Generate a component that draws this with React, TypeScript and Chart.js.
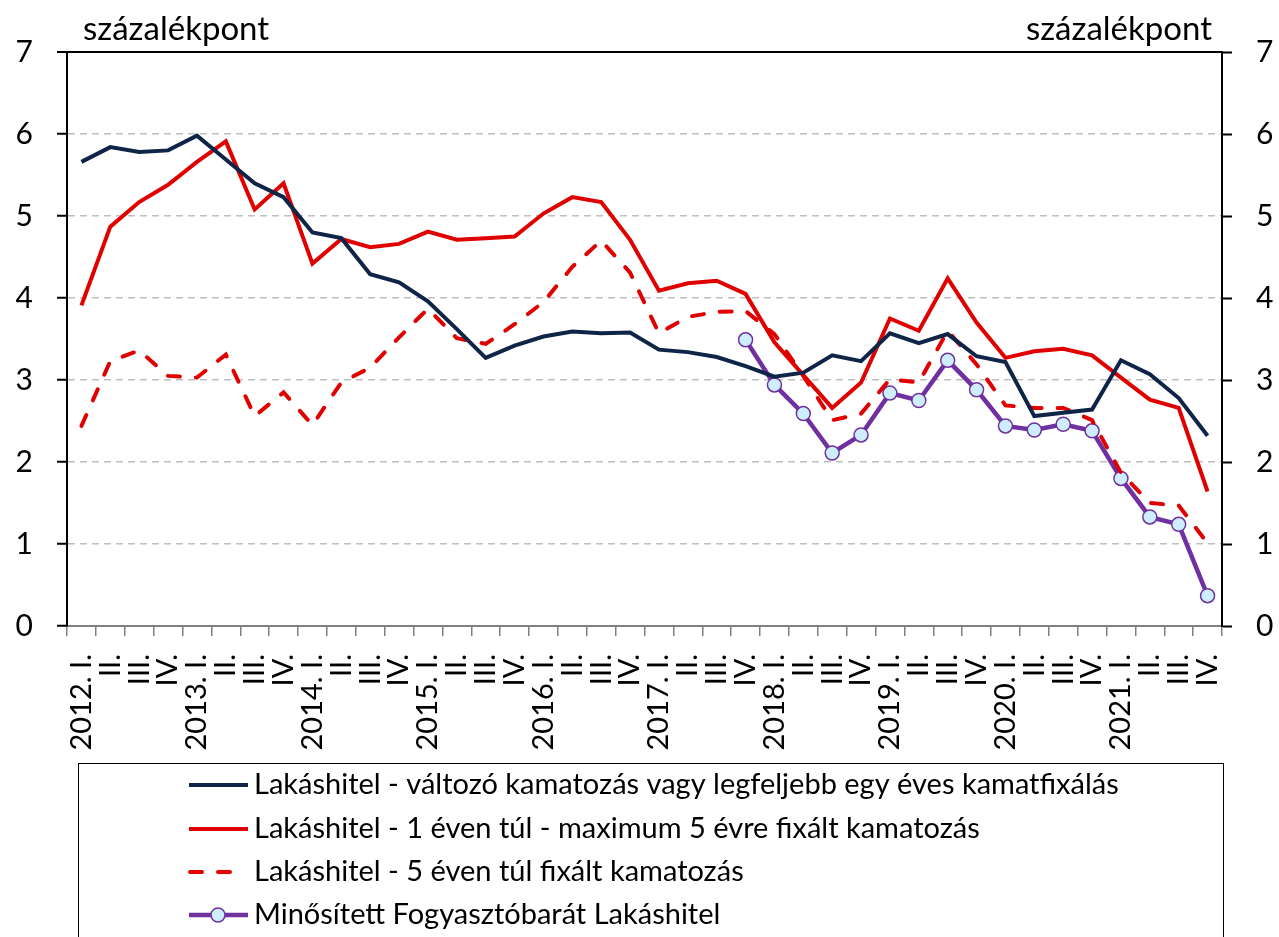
import React, { useEffect, useRef } from "react";
import { Chart, registerables } from "chart.js";

Chart.register(...registerables);

const years = ["2012.", "2013.", "2014.", "2015.", "2016.", "2017.", "2018.", "2019.", "2020.", "2021."];
const quarters = ["I.", "II.", "III.", "IV."];
const categories: string[] = years.flatMap((y) => quarters.map((q, i) => (i === 0 ? `${y} ${q}` : q)));

const seriesNames = [
  "Lakáshitel - változó kamatozás vagy legfeljebb egy éves kamatfixálás",
  "Lakáshitel - 1 éven túl - maximum 5 évre fixált kamatozás",
  "Lakáshitel - 5 éven túl fixált kamatozás",
  "Minősített Fogyasztóbarát Lakáshitel",
];

const variableRate = [
  5.66, 5.84, 5.78, 5.80, 5.98, 5.69, 5.40, 5.23, 4.80, 4.73,
  4.29, 4.19, 3.96, 3.62, 3.27, 3.42, 3.53, 3.59, 3.57, 3.58,
  3.37, 3.34, 3.28, 3.17, 3.04, 3.09, 3.30, 3.23, 3.57, 3.45,
  3.56, 3.29, 3.22, 2.56, 2.60, 2.64, 3.24, 3.07, 2.78, 2.32,
];

const fixed1to5 = [
  3.91, 4.87, 5.17, 5.38, 5.66, 5.91, 5.08, 5.40, 4.42, 4.72,
  4.62, 4.66, 4.81, 4.71, 4.73, 4.75, 5.03, 5.23, 5.17, 4.71,
  4.09, 4.18, 4.21, 4.05, 3.46, 3.06, 2.66, 2.97, 3.75, 3.60,
  4.24, 3.70, 3.27, 3.35, 3.38, 3.30, 3.03, 2.76, 2.66, 1.64,
];

const fixedOver5 = [
  2.44, 3.23, 3.36, 3.05, 3.03, 3.31, 2.56, 2.85, 2.45, 2.97,
  3.15, 3.52, 3.87, 3.51, 3.44, 3.68, 3.95, 4.38, 4.70, 4.31,
  3.57, 3.77, 3.83, 3.84, 3.56, 3.05, 2.51, 2.59, 3.01, 2.97,
  3.60, 3.19, 2.69, 2.66, 2.66, 2.51, 1.87, 1.50, 1.47, 1.01,
];

const consumerFriendly: (number | null)[] = [
  null, null, null, null, null, null, null, null, null, null,
  null, null, null, null, null, null, null, null, null, null,
  null, null, null, 3.49, 2.94, 2.59, 2.11, 2.33, 2.84, 2.75,
  3.24, 2.88, 2.44, 2.39, 2.46, 2.38, 1.80, 1.33, 1.24, 0.37,
];

const yTicks = [0, 1, 2, 3, 4, 5, 6, 7];
const unitLabel = "százalékpont";

const FONT = "Lato, 'Open Sans', sans-serif";

const overlayPlugin = {
  id: "overlay",
  afterDraw(chart: any) {
    const ctx = chart.ctx as CanvasRenderingContext2D;
    const area = chart.chartArea;
    ctx.save();
    // unit labels
    ctx.fillStyle = "#000";
    ctx.font = `33px ${FONT}`;
    ctx.textBaseline = "middle";
    ctx.textAlign = "left";
    ctx.fillText(unitLabel, area.left + 16, 29);
    ctx.textAlign = "right";
    ctx.fillText(unitLabel, area.right - 10, 29);

    // legend box
    ctx.strokeStyle = "#000";
    ctx.lineWidth = 1;
    ctx.setLineDash([]);
    ctx.strokeRect(78.5, 763.5, 1145, 220);

    const rowY = [785, 829, 872, 915];
    chart.data.datasets.forEach((ds: any, i: number) => {
      const y = rowY[i];
      ctx.save();
      ctx.strokeStyle = ds.borderColor;
      ctx.lineWidth = ds.borderWidth;
      ctx.lineCap = ds.borderCapStyle || "butt";
      ctx.setLineDash(ds.borderDash || []);
      ctx.beginPath();
      if (ds.borderDash) {
        ctx.moveTo(190, y);
        ctx.lineTo(246, y);
      } else {
        ctx.moveTo(189, y);
        ctx.lineTo(248, y);
      }
      ctx.stroke();
      if (ds.pointRadius) {
        ctx.setLineDash([]);
        ctx.beginPath();
        ctx.arc(218, y, ds.pointRadius, 0, Math.PI * 2);
        ctx.fillStyle = ds.pointBackgroundColor;
        ctx.fill();
        ctx.lineWidth = ds.pointBorderWidth;
        ctx.strokeStyle = ds.pointBorderColor;
        ctx.stroke();
      }
      ctx.restore();
      ctx.fillStyle = "#000";
      ctx.font = `29px ${FONT}`;
      ctx.textAlign = "left";
      ctx.textBaseline = "middle";
      ctx.fillText(ds.label, 254, y);
    });
    ctx.restore();
  },
};

export default function App() {
  const canvasRef = useRef<HTMLCanvasElement | null>(null);

  useEffect(() => {
    if (!canvasRef.current) return;
    const chart = new Chart(canvasRef.current, {
      type: "line",
      data: {
        labels: categories,
        datasets: [
          {
            label: seriesNames[0],
            data: variableRate,
            borderColor: "#0f2548",
            borderWidth: 4,
            pointRadius: 0,
            tension: 0,
            yAxisID: "y",
          },
          {
            label: seriesNames[1],
            data: fixed1to5,
            borderColor: "#e00000",
            borderWidth: 4,
            pointRadius: 0,
            tension: 0,
            yAxisID: "y",
          },
          {
            label: seriesNames[2],
            data: fixedOver5,
            borderColor: "#e00000",
            borderWidth: 4,
            borderDash: [12, 16],
            borderCapStyle: "round",
            pointRadius: 0,
            tension: 0,
            yAxisID: "y",
          },
          {
            label: seriesNames[3],
            data: consumerFriendly,
            borderColor: "#7030a0",
            borderWidth: 4.5,
            pointRadius: 7,
            pointBackgroundColor: "#cdeffd",
            pointBorderColor: "#7030a0",
            pointBorderWidth: 1.5,
            tension: 0,
            spanGaps: false,
            yAxisID: "y",
          },
        ],
      },
      options: {
        responsive: false,
        animation: false,
        layout: { padding: { top: 52, bottom: 171, left: 0, right: 0 } },
        plugins: {
          legend: { display: false },
          tooltip: { enabled: false },
        },
        scales: {
          x: {
            type: "category",
            offset: true,
            grid: {
              offset: true,
              drawOnChartArea: false,
              drawTicks: true,
              tickLength: 10,
              color: "#808080",
              lineWidth: 1.5,
            },
            border: { display: true, color: "#808080", width: 2 },
            ticks: {
              autoSkip: false,
              minRotation: 90,
              maxRotation: 90,
              padding: 18,
              color: "#000",
              font: { family: FONT, size: 29 },
            },
            afterFit: (scale: any) => {
              scale.height = 140;
            },
          },
          y: {
            position: "left",
            min: 0,
            max: 7,
            afterBuildTicks: (scale: any) => {
              scale.ticks = yTicks.map((v) => ({ value: v }));
            },
            grid: {
              drawOnChartArea: true,
              drawTicks: true,
              tickLength: 10,
              color: (c: any) => (c.tick && c.tick.value === 7 ? "#000" : c.tick && c.tick.value === 0 ? "rgba(0,0,0,0)" : "#bfbfbf"),
              tickColor: "#000",
              lineWidth: (c: any) => (c.tick && c.tick.value === 7 ? 2 : 1.5),
              tickWidth: 2,
            },
            border: {
              display: true,
              color: "#000",
              width: 2,
              dash: (c: any) => (c.tick && c.tick.value === 7 ? [] : [7, 5]),
            },
            ticks: {
              padding: 24,
              color: "#000",
              font: { family: FONT, size: 30 },
            },
            afterFit: (scale: any) => {
              scale.width = 67;
            },
          },
          y2: {
            position: "right",
            min: 0,
            max: 7,
            afterBuildTicks: (scale: any) => {
              scale.ticks = yTicks.map((v) => ({ value: v }));
            },
            grid: {
              drawOnChartArea: false,
              drawTicks: true,
              tickLength: 10,
              tickColor: "#000",
              tickWidth: 2,
            },
            border: { display: true, color: "#000", width: 2 },
            ticks: {
              padding: 24,
              color: "#000",
              font: { family: FONT, size: 30 },
            },
            afterFit: (scale: any) => {
              scale.width = 57;
            },
          },
        },
      },
      plugins: [overlayPlugin],
    });
    return () => chart.destroy();
  }, []);

  return (
    <div style={{ position: "fixed", left: 0, top: 0, width: 1279, height: 937, background: "#fff", overflow: "hidden" }}>
      <canvas ref={canvasRef} width={1279} height={937} style={{ width: 1279, height: 937, display: "block" }} />
    </div>
  );
}
